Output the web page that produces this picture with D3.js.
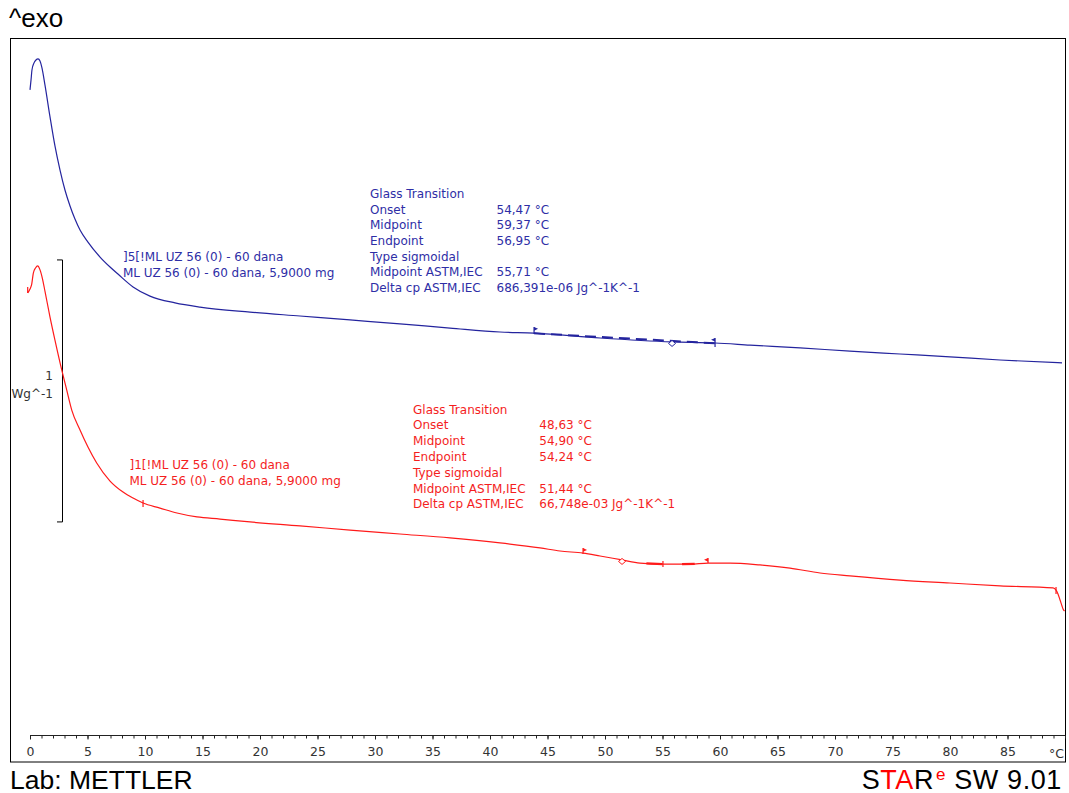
<!DOCTYPE html>
<html><head><meta charset="utf-8">
<script src="https://cdn.jsdelivr.net/npm/d3@7"></script>
<style>body{margin:0;background:#fff} svg{display:block}</style>
</head><body>
<svg id="c" width="1069" height="793"></svg>
<script>
// ---- data ----
const blueT = [0.00,0.09,0.17,0.35,0.52,0.70,0.87,1.04,1.30,1.74,2.17,2.61,3.04,3.48,3.91,4.35,5.04,6.09,6.96,7.65,8.96,10.43,12.61,14.78,19.13,23.48,27.83,32.17,36.52,40.87,43.83,49.57,55.83,59.57,62.61,66.96,71.30,75.65,80.00,84.35,89.74];
const blueV = [2.466,2.504,2.542,2.569,2.580,2.584,2.576,2.550,2.485,2.363,2.252,2.160,2.084,2.023,1.973,1.931,1.885,1.828,1.790,1.763,1.714,1.679,1.653,1.637,1.618,1.603,1.588,1.573,1.557,1.542,1.538,1.519,1.504,1.500,1.492,1.481,1.469,1.458,1.447,1.435,1.424];
const redT = [-0.20,0.00,0.15,0.29,0.48,0.67,0.87,1.09,1.30,1.74,2.17,2.76,3.19,3.63,4.35,5.04,5.80,6.96,8.09,8.96,9.83,11.30,12.78,14.52,16.52,19.13,23.48,27.83,32.17,36.52,40.87,44.35,46.09,48.09,49.57,51.48,53.04,55.04,57.39,58.96,60.87,63.48,66.09,68.70,71.30,75.65,80.00,84.35,88.96,89.22,89.39,89.57,89.74,89.83,89.96];
const redV = [1.691,1.706,1.725,1.767,1.786,1.794,1.779,1.744,1.698,1.599,1.511,1.397,1.321,1.244,1.168,1.103,1.042,0.973,0.931,0.908,0.889,0.870,0.851,0.836,0.828,0.817,0.802,0.786,0.771,0.756,0.737,0.718,0.706,0.698,0.687,0.672,0.660,0.656,0.656,0.660,0.660,0.653,0.641,0.622,0.611,0.595,0.584,0.573,0.565,0.557,0.542,0.519,0.496,0.485,0.477];
const xTickValues = [0,5,10,15,20,25,30,35,40,45,50,55,60,65,70,75,80,85];
const xTickLabels = ["0","5","10","15","20","25","30","35","40","45","50","55","60","65","70","75","80","85"];
const xUnit = "°C";
const gtLabels = ["Glass Transition","Onset","Midpoint","Endpoint","Type sigmoidal","Midpoint ASTM,IEC","Delta cp ASTM,IEC"];
const blueGtValues = ["","54,47 °C","59,37 °C","56,95 °C","","55,71 °C","686,391e-06 Jg^-1K^-1"];
const redGtValues = ["","48,63 °C","54,90 °C","54,24 °C","","51,44 °C","66,748e-03 Jg^-1K^-1"];
const blueName = ["]5[!ML UZ 56 (0) - 60 dana","ML UZ 56 (0) - 60 dana, 5,9000 mg"];
const redName = ["]1[!ML UZ 56 (0) - 60 dana","ML UZ 56 (0) - 60 dana, 5,9000 mg"];
const blueMarks = {onset:43.83, mid:55.83, end:59.57};
const redMarks = {onset:48.09, mid:51.48, tick:55.04, end:58.96, extra:[9.83, 89.22]};
const scaleBar = {top:1.817, length:1, label:"1", unit:"Wg^-1"};

// ---- setup ----
const BLUE = "#24249e", BLUE_TXT = "#2e2ea6", RED = "#ff1a1a", RED_TXT = "#f41e1e";
const svg = d3.select("#c");
svg.append("rect").attr("width",1069).attr("height",793).attr("fill","#fff");
const x = d3.scaleLinear().domain([0,90]).range([30,1065]);
const y = d3.scaleLinear().domain([0,2.664]).range([736,38]);
const FONT = "'DejaVu Sans', sans-serif";
const SANS = "'Liberation Sans', Arial, sans-serif";

// frame
svg.append("rect").attr("x",10.5).attr("y",38.5).attr("width",1055).attr("height",723.5)
  .attr("fill","none").attr("stroke","#000").attr("stroke-width",1);

// header / footer
svg.append("text").attr("x",9).attr("y",27).attr("font-family",SANS)
  .attr("font-size",26).attr("fill","#000").text("^exo");
svg.append("text").attr("x",10).attr("y",788.5).attr("font-family",SANS)
  .attr("font-size",26.5).attr("fill","#000").text("Lab: METTLER");
const star = svg.append("text").attr("x",1062).attr("y",788.5).attr("text-anchor","end")
  .attr("font-family",SANS).attr("font-size",27).attr("letter-spacing",0.6).attr("fill","#000");
star.append("tspan").text("S");
star.append("tspan").attr("fill","#ff0000").text("TA");
star.append("tspan").text("R");
star.append("tspan").attr("fill","#ff0000").attr("font-size",17).attr("dy",-9).attr("dx",2).text("e");
star.append("tspan").attr("dy",9).text(" SW 9.01");

// x axis
const ax = svg.append("g").attr("transform","translate(0,735.5)");
const axis = d3.axisBottom(x).tickValues(xTickValues).tickSize(4).tickFormat((d,i)=>xTickLabels[i]);
ax.call(axis);
ax.select(".domain").attr("d",`M${x(0)},0H${x(90)}`).attr("stroke","#222");
ax.selectAll(".tick line").attr("stroke","#222");
ax.selectAll(".tick text").attr("font-family",FONT).attr("font-size",12.5).attr("fill","#333").attr("y",12);
// minor ticks
ax.append("g").selectAll("line").data(d3.range(0,91,1)).join("line")
  .attr("x1",d=>x(d)+0.5).attr("x2",d=>x(d)+0.5).attr("y1",0).attr("y2",3).attr("stroke","#222");
ax.append("text").attr("x",x(90)-1).attr("y",22).attr("text-anchor","end").attr("font-family",FONT)
  .attr("font-size",12.5).attr("fill","#333").text(xUnit);

// scale bar
const sbx = 62.5;
svg.append("path").attr("d",`M57,${y(scaleBar.top)}H${sbx}V${y(scaleBar.top-scaleBar.length)}H57`)
  .attr("fill","none").attr("stroke","#000").attr("stroke-width",1);
svg.append("text").attr("x",53).attr("y",380).attr("text-anchor","end").attr("font-family",FONT)
  .attr("font-size",12).attr("fill","#333").text(scaleBar.label);
svg.append("text").attr("x",53).attr("y",397.5).attr("text-anchor","end").attr("font-family",FONT)
  .attr("font-size",12).attr("fill","#333").text(scaleBar.unit);

// curves
const line = d3.line().x(d=>x(d[0])).y(d=>y(d[1])).curve(d3.curveMonotoneX);
const blueData = blueT.map((t,i)=>[t,blueV[i]]);
const redData = redT.map((t,i)=>[t,redV[i]]);
svg.append("path").datum(blueData).attr("d",line).attr("fill","none").attr("stroke",BLUE).attr("stroke-width",1.2);
svg.append("path").datum(redData).attr("d",line).attr("fill","none").attr("stroke",RED).attr("stroke-width",1.2);

function at(T,V,t){const i=Math.max(1,Math.min(T.length-1,d3.bisectLeft(T,t)));const f=(t-T[i-1])/(T[i]-T[i-1]);return V[i-1]+f*(V[i]-V[i-1]);}
function flag(g,t,T,V,col,up,down,dir){
  const px=x(t), py=y(at(T,V,t));
  g.append("path").attr("d",`M${px},${py-up}V${py+down}`).attr("stroke",col).attr("stroke-width",1.2);
  g.append("path").attr("d",`M${px},${py-up}L${px+4*dir},${py-up+1.8}L${px},${py-up+3.6}Z`).attr("fill",col);
}
function diamond(g,t,T,V,col){
  const px=x(t), py=y(at(T,V,t))+1.5;
  g.append("path").attr("d",`M${px},${py-3}L${px+3.5},${py}L${px},${py+3}L${px-3.5},${py}Z`)
    .attr("fill","#fff").attr("stroke",col).attr("stroke-width",1);
}
function tick(g,t,T,V,col,up,down){
  const px=x(t), py=y(at(T,V,t));
  g.append("path").attr("d",`M${px},${py-up}V${py+down}`).attr("stroke",col).attr("stroke-width",1.2);
}
const mk = svg.append("g");
// blue tangent dashes
{
  const a=blueMarks.onset,b=blueMarks.end;
  mk.append("line").attr("x1",x(a)).attr("y1",y(at(blueT,blueV,a))+0.3).attr("x2",x(b)).attr("y2",y(at(blueT,blueV,b))+0.3)
    .attr("stroke",BLUE).attr("stroke-width",2).attr("stroke-dasharray","11,6");
}
flag(mk,blueMarks.onset,blueT,blueV,BLUE,6,1,1);
diamond(mk,blueMarks.mid,blueT,blueV,BLUE);
flag(mk,blueMarks.end,blueT,blueV,BLUE,5,4,-1);
// red
[[53.6,55.0],[56.7,57.8]].forEach(([a,b])=>{
  mk.append("line").attr("x1",x(a)).attr("y1",y(at(redT,redV,a))).attr("x2",x(b)).attr("y2",y(at(redT,redV,b)))
    .attr("stroke",RED).attr("stroke-width",2.2);
});
flag(mk,redMarks.onset,redT,redV,RED,5,1,1);
diamond(mk,redMarks.mid,redT,redV,RED);
tick(mk,redMarks.tick,redT,redV,RED,3,3);
flag(mk,redMarks.end,redT,redV,RED,5,0,-1);
redMarks.extra.forEach(t=>tick(mk,t,redT,redV,RED,3,4));
tick(mk,redT[0],redT,redV,RED,6,0);

// annotations
function block(x0,xv,y0,step,labels,vals,col){
  const g=svg.append("g").attr("font-family",FONT).attr("font-size",12).attr("fill",col);
  labels.forEach((l,i)=>{
    g.append("text").attr("x",x0).attr("y",y0+i*step).text(l);
    if(vals[i]) g.append("text").attr("x",xv).attr("y",y0+i*step).text(vals[i]);
  });
}
block(370,496.5,198.3,15.55,gtLabels,blueGtValues,BLUE_TXT);
block(413,539.3,413.5,15.8,gtLabels,redGtValues,RED_TXT);
block(123,0,260.5,16.3,blueName,[],BLUE_TXT);
block(129.5,0,469.3,16,redName,[],RED_TXT);
</script>
</body></html>
